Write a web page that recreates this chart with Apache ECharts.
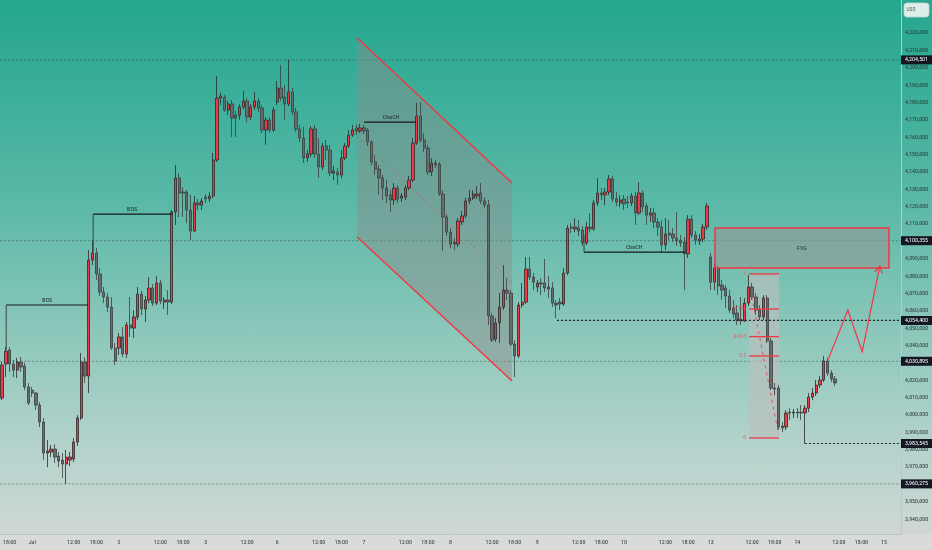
<!DOCTYPE html>
<html><head><meta charset="utf-8">
<script src="https://cdn.jsdelivr.net/npm/echarts@6/dist/echarts.min.js"></script>
<style>
html,body{margin:0;padding:0;}
#c{width:932px;height:550px;background:linear-gradient(to bottom,#25a68e 0px,#3daf9a 100px,#5ab8a6 200px,#76c1b2 275px,#93c9bd 350px,#b5d3cc 450px,#cfd7d5 534px,#d9dbdb 534px,#d9dbdb 550px);}
</style></head><body><div id="c"></div>
<script>
// ---------- data ----------
const FIRST = [16,17,18,19,20,21,22,23];
const FULL  = [0,1,2,3,5,6,7,8,9,10,11,12,13,14,15,16,17,18,19,20,21,22,23];
const SHORT = [0,1,2,3,5,6,7,8,9,10,11,12,13,14,15,16,17,18,19];
const LAST  = [0,1,2,3,5];
const sessions = [
  ['2026-06-30','',FIRST],['2026-07-01','Jul',FULL],['2026-07-02','2',FULL],['2026-07-03','3',SHORT],
  ['2026-07-06','6',FULL],['2026-07-07','7',FULL],['2026-07-08','8',FULL],['2026-07-09','9',FULL],
  ['2026-07-10','10',FULL],['2026-07-13','13',FULL],['2026-07-14','14',FULL],['2026-07-15','15',LAST]
];
// [open, close, low, high]
const ohlc = [
[4009700,4028700,4008600,4030500],[4029300,4036800,4021800,4039100],[4037400,4029300,4024700,4039100],[4029300,4025800,4021800,4031600],
[4025800,4030500,4021200,4032800],[4030500,4027600,4024700,4033300],[4028100,4016100,4014300,4029900],[4016100,4006800,4005700,4018400],
[4014300,4012600,4010300,4016100],[4012600,4005700,4002800,4013200],[4005700,3995900,3993000,4007400],[3995900,3978000,3974000,3998200],
[3978000,3979200,3969900,3985500],[3978600,3980300,3975700,3982600],[3980300,3975700,3972300,3983200],[3976300,3973400,3969900,3978600],
[3974000,3971700,3963600,3978000],[3971700,3975700,3960275,3979800],[3974000,3975700,3970500,3978600],[3974600,3984400,3972900,3986700],
[3984400,3998200,3982100,3999900],[3998200,4030500,3997000,4035600],[4030500,4022400,4018400,4033300],[4022400,4089200,4012600,4095000],
[4089200,4093300,4086300,4100700],[4093300,4081200,4077700,4096100],[4081200,4070800,4068500,4084600],[4070800,4067900,4064400,4073700],
[4067900,4062100,4059300,4070200],[4062100,4038500,4037400,4067900],[4038500,4031000,4028700,4041400],[4038500,4044900,4034500,4047200],
[4044900,4035100,4033300,4050600],[4035100,4051800,4032800,4053500],[4051800,4050000,4044900,4067900],[4050000,4056400,4044300,4060400],
[4056400,4069600,4054600,4073700],[4069600,4061000,4057500,4071400],[4061000,4066200,4053500,4068500],[4066200,4073100,4064400,4079400],
[4073100,4064400,4062700,4075400],[4064400,4076000,4063300,4080000],[4076000,4065600,4063900,4077700],[4065000,4066200,4061000,4067900],
[4066200,4065000,4057500,4071900],[4065000,4116900,4063900,4118000],[4116900,4136500,4109400,4143900],[4136500,4127800,4114000,4139300],
[4128400,4127800,4114000,4131300],[4128400,4118000,4110500,4129500],[4118000,4105900,4100700,4126700],[4105900,4122100,4105300,4126100],
[4122100,4120900,4118000,4124400],[4120900,4123200,4118000,4124900],[4125500,4124400,4122100,4127200],[4124400,4126100,4122600,4128400],
[4126100,4146800,4124900,4150900],[4146800,4182500,4145700,4195200],[4182500,4183700,4178500,4185400],[4183100,4175600,4174500,4184300],
[4175600,4179100,4172700,4180800],[4179100,4171000,4160100,4181400],[4172700,4171000,4160100,4175100],[4172700,4177400,4169900,4179100],
[4177400,4180800,4176200,4186600],[4180800,4171600,4168700,4182500],[4171600,4177400,4169900,4179100],[4177400,4180800,4175600,4186000],
[4180800,4176800,4174500,4182500],[4176800,4164100,4162400,4178500],[4164100,4169900,4155500,4171600],[4169900,4164100,4162400,4171600],
[4164100,4175600,4163000,4177400],[4180200,4188300,4178500,4192300],[4188300,4182500,4180800,4201600],[4183100,4179100,4169900,4190000],
[4179100,4186000,4177900,4204501],[4186000,4174500,4172700,4188300],[4174500,4164700,4163000,4176800],[4164700,4159500,4157200,4167000],
[4159500,4148000,4145100,4165800],[4148000,4150300,4145700,4152600],[4150300,4164700,4148600,4166400],[4164700,4150300,4148000,4167000],
[4150300,4142800,4136500,4159500],[4142800,4154900,4141100,4156600],[4154900,4152600,4146800,4158300],[4152600,4139300,4137600,4155500],
[4139300,4140500,4135300,4143400],[4139900,4138200,4132400,4142200],[4138200,4148000,4136500,4152600],[4148000,4154900,4146800,4156600],
[4154900,4161200,4153700,4164100],[4161200,4164100,4160100,4167000],[4165300,4163500,4161200,4167000],[4163500,4165300,4162400,4167600],
[4165300,4163500,4161800,4167000],[4164100,4157200,4154900,4165300],[4157200,4145700,4143900,4158300],[4145700,4141600,4138200,4149700],
[4141600,4136500,4126700,4143900],[4136500,4130700,4123800,4138200],[4130700,4126100,4122100,4135300],[4126700,4123800,4116900,4129500],
[4123800,4130700,4120900,4133600],[4130700,4124400,4122100,4132400],[4124900,4126100,4122600,4127800],[4125500,4130700,4123800,4132400],
[4130700,4135300,4129500,4137600],[4135300,4156600,4134100,4159500],[4156600,4172200,4155500,4179700],[4172200,4158300,4157200,4180200],
[4158300,4153700,4151400,4162400],[4153700,4139900,4138200,4155500],[4139900,4145100,4137600,4148000],[4145100,4143900,4142200,4146800],
[4144500,4127200,4126100,4145700],[4127200,4114000,4094400,4129500],[4114000,4105300,4103000,4115700],[4105300,4098400,4096100,4107600],
[4099600,4098400,4095000,4101900],[4098400,4111700,4096700,4113400],[4111100,4114600,4109400,4117400],[4114600,4123200,4113400,4124900],
[4123200,4124900,4121500,4129500],[4124900,4127200,4123800,4129500],[4126100,4127200,4124400,4131800],[4127800,4123200,4121500,4133600],
[4123200,4120900,4119200,4125500],[4120900,4057000,4051800,4123800],[4057000,4043100,4042000,4058700],[4043700,4052900,4042000,4055800],
[4052900,4062100,4041400,4070200],[4062100,4071900,4060400,4086300],[4071900,4070200,4066200,4078800],[4070200,4040800,4039700,4071900],
[4040800,4033900,4021800,4043100],[4033900,4063300,4032800,4065000],[4063300,4065000,4061600,4076000],[4065000,4084000,4063900,4091000],
[4084000,4079400,4077700,4091000],[4079400,4076500,4071900,4081700],[4073700,4076000,4070800,4077700],[4076000,4075400,4069000,4078800],
[4076000,4073100,4070800,4089800],[4073700,4072500,4067300,4080000],[4073100,4064400,4062100,4076500],[4064400,4063300,4055800,4066200],
[4065000,4063900,4060400,4067300],[4063900,4081700,4062700,4084600],[4081700,4107600,4080600,4109400],[4108200,4107600,4104800,4110500],
[4107100,4108200,4105300,4113400],[4107600,4105900,4103000,4112300],[4106500,4099000,4097300,4108800],[4099000,4108200,4097900,4111100],
[4108200,4107100,4105300,4116300],[4107100,4122100,4105900,4123800],[4122100,4127800,4120300,4136500],[4127800,4126700,4123800,4130700],
[4126700,4128400,4120900,4130700],[4128400,4135900,4126700,4138200],[4135900,4124400,4122600,4137600],[4124400,4122600,4120300,4128400],
[4122100,4123800,4119800,4126700],[4124400,4121500,4118000,4126700],[4122600,4122100,4119200,4126100],[4122100,4126100,4120300,4127800],
[4126100,4116300,4109400,4128400],[4116300,4127800,4115100,4134100],[4127800,4119800,4116900,4129500],[4120300,4115100,4109400,4122100],
[4115100,4116300,4111100,4119200],[4116300,4111100,4107600,4119200],[4111100,4108200,4103000,4113400],[4108200,4097900,4093800,4112300],
[4097900,4104200,4095000,4113400],[4104800,4103600,4100700,4112300],[4104200,4101900,4099600,4107600],[4101900,4100200,4097300,4116900],
[4100700,4099000,4096700,4103600],[4099600,4092700,4071900,4102500],[4092700,4112800,4090400,4115100],[4112800,4103600,4101900,4115100],
[4103600,4100700,4097900,4105900],[4100200,4101300,4097900,4104200],[4101300,4108200,4099600,4110000],[4108200,4120300,4106500,4122100],
[4091000,4076500,4071900,4093300],[4076500,4084600,4071900,4087500],[4084600,4074200,4069000,4086300],[4074800,4071900,4066200,4077700],
[4073100,4068500,4061600,4074800],[4068500,4060400,4058700,4071900],[4061600,4058100,4055800,4066200],[4058700,4054600,4051800,4063300],
[4055200,4054100,4051800,4067900],[4054100,4064400,4053500,4067300],[4064400,4073700,4062700,4080600],[4073700,4067900,4066200,4076000],
[4067900,4060400,4057500,4070200],[4060400,4056400,4054600,4063300],[4056400,4067300,4054600,4069000],[4067300,4042600,4041400,4069000],
[4042600,4015500,4014300,4044300],[4015500,4014900,4011400,4018400],[4015500,3993000,3991300,4017200],[3993600,3992400,3990100,3995900],
[3993000,4001100,3991300,4002800],[4001600,4001100,3997000,4003900],[4001100,4001600,3998200,4003400],[4001600,4001100,3998200,4003900],
[4001600,4001100,3997000,4005700],[4001100,4003900,3983545,4005700],[4003900,4010300,4001600,4012600],[4010300,4012600,4008600,4015500],
[4012600,4017200,4010900,4020100],[4017200,4020100,4015500,4022400],[4020100,4031000,4018900,4033900],[4031000,4024100,4022400,4032800],
[4024100,4020700,4018900,4025800],[4020700,4018400,4016600,4022400]
];
// horizontal price levels
const fullLevels = [4204501, 4100355, 4030895, 3960275];
const dottedLevels = [[4054400, 147.2], [3983545, 213.0]]; // [price, start index]
const tagLevels = [4204501, 4100355, 4054400, 4030895, 3983545, 3960275];
// drawings, coordinates [bar index, price]
const channel = [[94.2,4217100],[135.3,4133600],[135.3,4019500],[94.2,4102500]];
const channelMid = [[94.2,4160100],[135.3,4076500]];
const structureLines = [
  {text:'BOS',   from:[1.09,4063300],  to:[22.84,4063300],  legTo:4037400, labelAt:11.97},
  {text:'BOS',   from:[24.17,4115700], to:[45.12,4115700],  legTo:4093800, labelAt:34.5},
  {text:'ChoCH', from:[96.06,4168700], to:[109.85,4168700], legTo:null,    labelAt:103.2},
  {text:'ChoCH', from:[154.41,4093800],to:[181.2,4093800],  legTo:4103600, labelAt:167.7}
];
const fvg = {x1:189.16, x2:235.3, top:4107660, bottom:4084620, text:'FVG'};
const fib = {x1:198.18, x2:206.14, p1:4081200, p0:3986700};
const fibLevels = [1, 0.786, 0.618, 0.5, 0];
const fibLabels = ['1','0.786','0.618','0.5','0'];
const fibPath = [[198.9,4068100],[205.8,3991300]];
const projection = [[219.2,4032000],[224.4,4060400],[228.2,4036400],[232.9,4085800]];

// ---------- build ----------
const categories = [], xLabels = [];
sessions.forEach(([d, lab, hrs]) => {
  hrs.forEach(h => {
    categories.push(d + ' ' + String(h).padStart(2,'0') + ':00');
    let t = '';
    if (h === 0) t = lab;
    else if (h === 12) t = '12:00';
    else if (h === 18 && hrs.indexOf(23) >= 0) t = '18:00';
    xLabels.push(t);
  });
});
const N = categories.length;
const fmt = v => String(Math.round(v)).replace(/\B(?=(\d{3})+(?!\d))/g, ',');
const F = "'Liberation Sans Narrow','Roboto Condensed','DejaVu Sans Condensed',Roboto,sans-serif";
const RED = '#f23645';

const chart = echarts.init(document.getElementById('c'), null, {renderer:'canvas'});
chart.setOption({
  animation: false,
  backgroundColor: 'transparent',
  grid: {left: 0, right: 31, top: 0, bottom: 16},
  xAxis: [{
    type: 'category', data: categories, boundaryGap: true,
    axisLine: {show: true, onZero: false, lineStyle: {color: '#bcc3c1', width: 1}},
    axisTick: {show: false}, splitLine: {show: false},
    axisLabel: {
      interval: (i) => xLabels[i] !== '',
      formatter: (v, i) => xLabels[i],
      fontSize: 6, fontFamily: F, color: '#2c3533', margin: 5
    }
  }, {
    type: 'value', min: -0.5, max: N - 0.5, show: false,
    axisLine: {show: false, onZero: false}
  }],
  yAxis: [{
    type: 'value', position: 'right', min: 3931400, max: 4239000, splitNumber: 30,
    scale: true,
    axisLine: {show: true, onZero: false, lineStyle: {color: '#bcc8c5'}},
    axisTick: {show: false}, splitLine: {show: false},
    axisLabel: {
      showMinLabel: false, showMaxLabel: false,
      formatter: v => (v % 10000 === 0 && v <= 4225000) ? fmt(v) : '',
      fontSize: 6, fontFamily: F, color: '#2c3533', margin: 4
    }
  }],
  series: [{
    type: 'candlestick', data: ohlc, barWidth: 2.8, z: 3,
    itemStyle: {color: RED, color0: '#676b6b', borderColor: '#2b2b2b', borderColor0: '#3c4040', borderWidth: 0.8}
  }]
});

function drawOverlays() {
  const px = i => chart.convertToPixel({xAxisIndex: 1}, i);
  const py = v => chart.convertToPixel({yAxisIndex: 0}, v);
  const P = ([i, v]) => [px(i), py(v)];
  const g = [];
  const left = px(-0.5), right = px(N - 0.5);
  const txt = (x, y, text, o) => Object.assign({
    type: 'text', x: x, y: y, silent: true, z: 20,
    style: {text: text, fill: '#1c2422', font: '6px ' + F, textAlign: 'center', align: 'center', textVerticalAlign: 'bottom', verticalAlign: 'bottom'}
  }, o || {});

  fullLevels.forEach(v => {
    const y = py(v);
    g.push({type: 'line', silent: true, z: 1, shape: {x1: left, y1: y, x2: right, y2: y},
      style: {stroke: 'rgba(60,80,76,0.55)', lineWidth: 1, lineDash: [2, 2]}});
  });
  dottedLevels.forEach(([v, i0]) => {
    const y = py(v);
    g.push({type: 'line', silent: true, z: 6, shape: {x1: px(i0), y1: y, x2: right, y2: y},
      style: {stroke: '#1d2321', lineWidth: 1.2, lineDash: [2, 2]}});
  });
  g.push({type: 'polygon', silent: true, z: 1, shape: {points: channel.map(P)}, style: {fill: 'rgba(140,140,140,0.45)'}});
  g.push({type: 'line', silent: true, z: 6, shape: {x1: P(channel[0])[0], y1: P(channel[0])[1], x2: P(channel[1])[0], y2: P(channel[1])[1]}, style: {stroke: RED, lineWidth: 1.5}});
  g.push({type: 'line', silent: true, z: 6, shape: {x1: P(channel[3])[0], y1: P(channel[3])[1], x2: P(channel[2])[0], y2: P(channel[2])[1]}, style: {stroke: RED, lineWidth: 1.5}});
  g.push({type: 'line', silent: true, z: 6, shape: {x1: P(channelMid[0])[0], y1: P(channelMid[0])[1], x2: P(channelMid[1])[0], y2: P(channelMid[1])[1]}, style: {stroke: 'rgba(242,54,69,0.55)', lineWidth: 1, lineDash: [2, 3]}});
  structureLines.forEach(s => {
    const a = P(s.from), b = P(s.to);
    g.push({type: 'line', silent: true, z: 7, shape: {x1: a[0], y1: a[1], x2: b[0], y2: b[1]}, style: {stroke: '#141a19', lineWidth: 1.2}});
    if (s.legTo != null) {
      g.push({type: 'line', silent: true, z: 7, shape: {x1: a[0], y1: a[1], x2: a[0], y2: py(s.legTo)}, style: {stroke: '#3a4442', lineWidth: 1}});
    }
    g.push(txt(px(s.labelAt), a[1] - 1.5, s.text));
  });
  {
    const x1 = px(fvg.x1), x2 = px(fvg.x2), y1 = py(fvg.top), y2 = py(fvg.bottom);
    g.push({type: 'rect', silent: true, z: 4, shape: {x: x1, y: y1, width: x2 - x1, height: y2 - y1},
      style: {fill: 'rgba(150,150,150,0.55)', stroke: RED, lineWidth: 1.5}});
    g.push(txt((x1 + x2) / 2, (y1 + y2) / 2, fvg.text, {style: {text: fvg.text, fill: '#2a3230', font: '6px ' + F, textAlign: 'center', align: 'center', textVerticalAlign: 'middle', verticalAlign: 'middle'}}));
  }
  {
    const x1 = px(fib.x1), x2 = px(fib.x2), y1 = py(fib.p1), y0 = py(fib.p0);
    g.push({type: 'rect', silent: true, z: 1, shape: {x: x1, y: y1, width: x2 - x1, height: y0 - y1}, style: {fill: 'rgba(190,190,190,0.6)'}});
    fibLevels.forEach((l, k) => {
      const y = py(fib.p0 + l * (fib.p1 - fib.p0));
      g.push({type: 'line', silent: true, z: 6, shape: {x1: x1, y1: y, x2: x2, y2: y}, style: {stroke: RED, lineWidth: 1.3}});
      g.push(txt(x1 - 3, y, fibLabels[k], {style: {text: fibLabels[k], fill: '#ee5566', font: '5.5px ' + F, textAlign: 'right', align: 'right', textVerticalAlign: 'middle', verticalAlign: 'middle'}}));
    });
    const a = P(fibPath[0]), b = P(fibPath[1]);
    g.push({type: 'line', silent: true, z: 6, shape: {x1: a[0], y1: a[1], x2: b[0], y2: b[1]}, style: {stroke: 'rgba(242,54,69,0.85)', lineWidth: 1, lineDash: [3, 4]}});
  }
  {
    const pts = projection.map(P);
    g.push({type: 'polyline', silent: true, z: 8, shape: {points: pts}, style: {stroke: RED, lineWidth: 1.2, fill: null}});
    const t = pts[pts.length - 1], p = pts[pts.length - 2];
    const dx = t[0] - p[0], dy = t[1] - p[1], L = Math.hypot(dx, dy), ux = dx / L, uy = dy / L;
    const ang = 0.5, len = 8;
    [ang, -ang].forEach(a => {
      const rx = ux * Math.cos(a) - uy * Math.sin(a), ry = ux * Math.sin(a) + uy * Math.cos(a);
      g.push({type: 'line', silent: true, z: 8, shape: {x1: t[0], y1: t[1], x2: t[0] - rx * len, y2: t[1] - ry * len}, style: {stroke: RED, lineWidth: 1.2}});
    });
  }
  tagLevels.forEach(v => {
    const y = py(v);
    g.push({type: 'rect', silent: true, z: 30, shape: {x: right, y: y - 4.5, width: 31, height: 9}, style: {fill: '#131722'}});
    g.push({type: 'text', silent: true, z: 31, x: right + 15.5, y: y,
      style: {text: fmt(v), fill: '#ffffff', font: '6px ' + F, textAlign: 'center', align: 'center', textVerticalAlign: 'middle', verticalAlign: 'middle'}});
  });
  g.push({type: 'rect', silent: true, z: 30, shape: {x: 904, y: 3, width: 25, height: 14, r: 3}, style: {fill: 'rgba(238,244,243,0.92)', stroke: '#c9d3d1', lineWidth: 0.8}});
  g.push({type: 'text', silent: true, z: 31, x: 911, y: 10, style: {text: 'USD', fill: '#5a6462', font: '5.5px ' + F, textAlign: 'center', align: 'center', textVerticalAlign: 'middle', verticalAlign: 'middle'}});

  chart.setOption({graphic: {elements: g}});
}
drawOverlays();
</script>
</body></html>
